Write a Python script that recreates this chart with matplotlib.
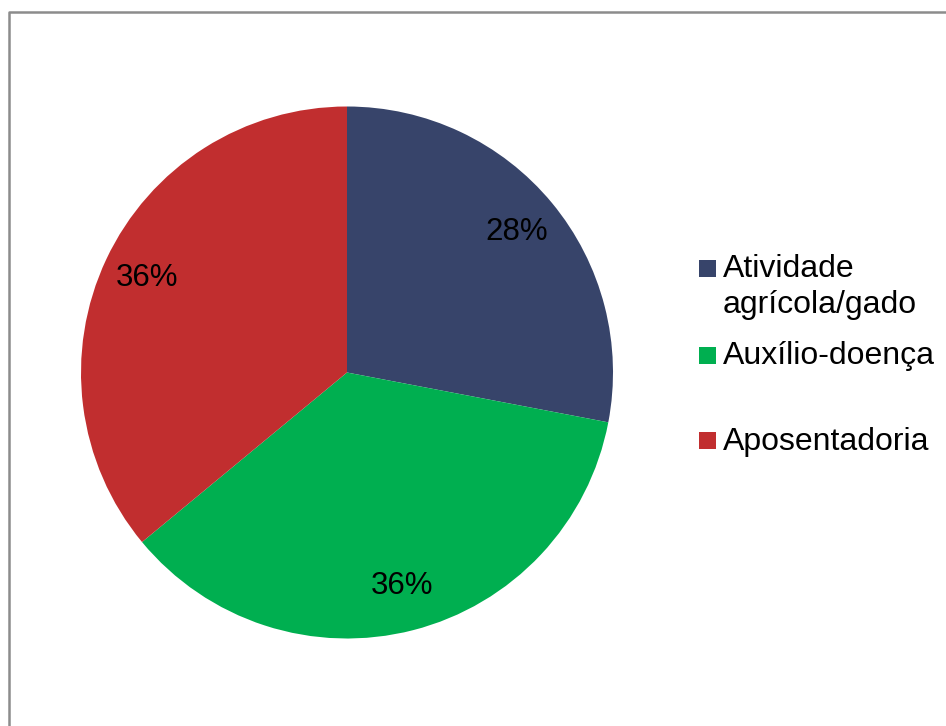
import matplotlib.pyplot as plt
from matplotlib.patches import Rectangle
from matplotlib.lines import Line2D

plt.rcParams['font.family'] = ['Liberation Sans', 'DejaVu Sans']

categorias = ['Atividade\nagrícola/gado', 'Auxílio-doença', 'Aposentadoria']
valores = [28, 36, 36]
cores = ['#37446A', '#00AF50', '#C12E2F']

W, H = 946, 726
fig = plt.figure(figsize=(W / 100, H / 100), dpi=100)

# pie centered at (347, 372.5) px, radius 266 px
cx, cy, r = 347, 372.5, 266
ax = fig.add_axes([(cx - r) / W, (H - cy - r) / H, 2 * r / W, 2 * r / H])
ax.pie(valores, colors=cores, startangle=90, counterclock=False,
       radius=1, autopct='%.0f%%', pctdistance=0.83,
       textprops={'fontsize': 22.5, 'color': 'black'},
       wedgeprops={'linewidth': 0})
ax.set_xlim(-1, 1)
ax.set_ylim(-1, 1)
ax.set_aspect('equal')
ax.axis('off')

# chart frame (only left and top edges fall inside the image)
def fx(px):
    return px / W

def fy(py):
    return 1 - py / H

fig.add_artist(Line2D([fx(8.5), fx(8.5), 1.0], [0.0, fy(11.5), fy(11.5)],
                      transform=fig.transFigure, color='#8C8C8C', lw=1.8))

# legend
box = 17
mark_y = [268, 355, 441]
text_y = [277, 364, 450]
for nome, cor, my, ty in zip(categorias, cores, mark_y, text_y):
    fig.add_artist(Rectangle((fx(699), fy(my + box / 2)), box / W, box / H,
                             transform=fig.transFigure, facecolor=cor, edgecolor='none'))
    linhas = nome.split('\n')
    for i, linha in enumerate(linhas):
        fig.text(fx(722.5), fy(ty + i * 36), linha, fontsize=23,
                 ha='left', va='baseline', color='black')

fig.savefig('out.png', dpi=100)
